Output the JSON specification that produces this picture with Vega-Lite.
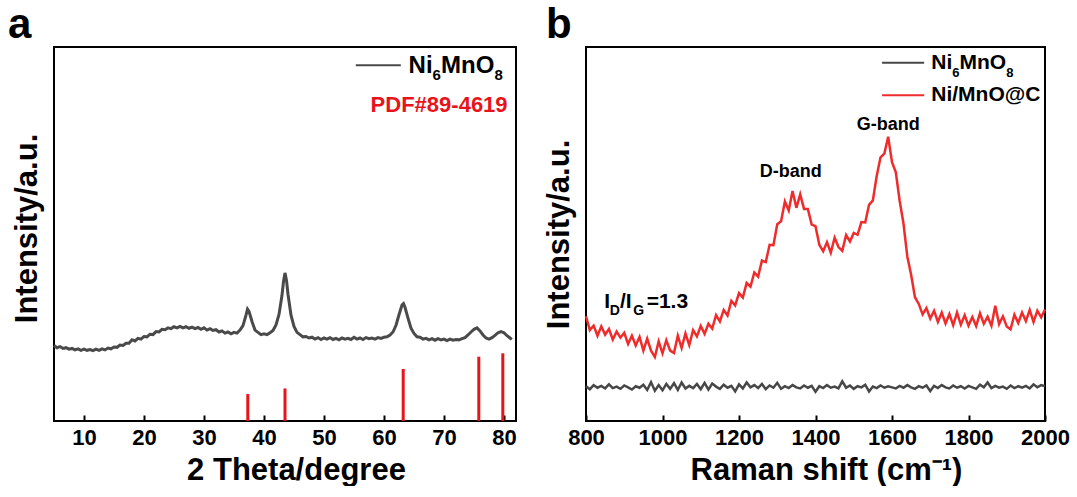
{
  "$schema": "https://vega.github.io/schema/vega-lite/v6.json",
  "background": "white",
  "padding": {"left": 7, "top": 3, "right": 0, "bottom": 0},
  "spacing": 23,
  "config": {
    "font": "Liberation Sans",
    "view": {"stroke": "black", "strokeWidth": 2},
    "axis": {
      "labelFont": "Liberation Sans", "labelFontSize": 22, "labelFontWeight": "bold", "labelColor": "black", "labelFlush": false,
      "titleFont": "Liberation Sans", "titleFontSize": 31, "titleFontWeight": "bold", "titleColor": "black",
      "domain": false, "grid": false, "tickColor": "black", "tickWidth": 2
    },
    "text": {"font": "Liberation Sans", "fontWeight": "bold", "color": "black", "baseline": "alphabetic", "align": "left"}
  },
  "datasets": {
    "xrd": [
      {"t":5.0,"i":20.2},{"t":5.5,"i":19.6},{"t":6.0,"i":19.9},{"t":6.5,"i":19.4},{"t":7.0,"i":19.6},{"t":7.5,"i":19.2},{"t":8.0,"i":19.4},{"t":8.5,"i":19.0},{"t":9.0,"i":19.3},{"t":9.5,"i":18.9},
      {"t":10.0,"i":19.2},{"t":10.5,"i":18.9},{"t":11.0,"i":19.1},{"t":11.5,"i":18.8},{"t":12.0,"i":19.2},{"t":12.5,"i":18.9},{"t":13.0,"i":19.3},{"t":13.5,"i":19.0},{"t":14.0,"i":19.5},{"t":14.5,"i":19.3},
      {"t":15.0,"i":19.8},{"t":15.5,"i":19.7},{"t":16.0,"i":20.3},{"t":16.5,"i":20.2},{"t":17.0,"i":20.8},{"t":17.5,"i":20.8},{"t":18.0,"i":21.7},{"t":18.5,"i":21.4},{"t":19.0,"i":22.1},{"t":19.5,"i":21.9},
      {"t":20.0,"i":22.6},{"t":20.5,"i":22.5},{"t":21.0,"i":23.2},{"t":21.5,"i":23.1},{"t":22.0,"i":23.9},{"t":22.5,"i":23.8},{"t":23.0,"i":24.5},{"t":23.5,"i":24.4},{"t":24.0,"i":24.9},{"t":24.5,"i":24.7},
      {"t":25.0,"i":25.2},{"t":25.5,"i":24.9},{"t":26.0,"i":25.3},{"t":26.5,"i":24.9},{"t":27.0,"i":25.2},{"t":27.5,"i":24.8},{"t":28.0,"i":25.1},{"t":28.5,"i":24.7},{"t":29.0,"i":25.0},{"t":29.5,"i":24.5},
      {"t":30.0,"i":24.9},{"t":30.5,"i":24.3},{"t":31.0,"i":24.7},{"t":31.5,"i":24.2},{"t":32.0,"i":24.4},{"t":32.5,"i":23.8},{"t":33.0,"i":24.1},{"t":33.5,"i":23.5},{"t":34.0,"i":23.8},{"t":34.5,"i":23.3},
      {"t":35.0,"i":23.7},{"t":35.5,"i":23.5},{"t":36.0,"i":24.3},{"t":36.5,"i":25.5},{"t":37.0,"i":28.3},{"t":37.25,"i":29.9},{"t":37.5,"i":29.3},{"t":38.0,"i":26.6},{"t":38.5,"i":24.3},{"t":39.0,"i":23.7},
      {"t":39.5,"i":23.1},{"t":40.0,"i":23.3},{"t":40.5,"i":23.1},{"t":41.0,"i":23.6},{"t":41.5,"i":24.2},{"t":42.0,"i":25.7},{"t":42.5,"i":28.5},{"t":43.0,"i":33.6},{"t":43.25,"i":37.3},{"t":43.5,"i":39.6},
      {"t":43.75,"i":37.6},{"t":44.0,"i":33.9},{"t":44.5,"i":28.3},{"t":45.0,"i":25.3},{"t":45.5,"i":23.7},{"t":46.0,"i":23.1},{"t":46.5,"i":22.5},{"t":47.0,"i":22.6},{"t":47.5,"i":22.2},{"t":48.0,"i":22.4},
      {"t":48.5,"i":21.9},{"t":49.0,"i":22.3},{"t":49.5,"i":21.8},{"t":50.0,"i":22.2},{"t":50.5,"i":21.9},{"t":51.0,"i":22.3},{"t":51.5,"i":21.8},{"t":52.0,"i":22.1},{"t":52.5,"i":21.7},{"t":53.0,"i":22.2},
      {"t":53.5,"i":21.9},{"t":54.0,"i":22.1},{"t":54.5,"i":21.8},{"t":55.0,"i":22.4},{"t":55.5,"i":21.9},{"t":56.0,"i":22.2},{"t":56.5,"i":21.8},{"t":57.0,"i":22.3},{"t":57.5,"i":22.0},{"t":58.0,"i":22.2},
      {"t":58.5,"i":21.9},{"t":59.0,"i":22.3},{"t":59.5,"i":22.1},{"t":60.0,"i":22.4},{"t":60.5,"i":22.5},{"t":61.0,"i":23.0},{"t":61.5,"i":23.8},{"t":62.0,"i":25.6},{"t":62.5,"i":28.4},{"t":63.0,"i":31.0},
      {"t":63.25,"i":31.4},{"t":63.5,"i":30.4},{"t":64.0,"i":27.5},{"t":64.5,"i":24.8},{"t":65.0,"i":23.4},{"t":65.5,"i":22.5},{"t":66.0,"i":22.4},{"t":66.5,"i":21.9},{"t":67.0,"i":22.1},{"t":67.5,"i":21.7},
      {"t":68.0,"i":22.0},{"t":68.5,"i":21.6},{"t":69.0,"i":22.0},{"t":69.5,"i":21.7},{"t":70.0,"i":21.9},{"t":70.5,"i":21.5},{"t":71.0,"i":21.9},{"t":71.5,"i":21.6},{"t":72.0,"i":21.8},{"t":72.5,"i":21.7},
      {"t":73.0,"i":22.0},{"t":73.5,"i":22.3},{"t":74.0,"i":23.0},{"t":74.5,"i":23.8},{"t":75.0,"i":24.5},{"t":75.5,"i":24.9},{"t":76.0,"i":24.1},{"t":76.5,"i":23.0},{"t":77.0,"i":22.2},{"t":77.5,"i":21.9},
      {"t":78.0,"i":22.3},{"t":78.5,"i":22.9},{"t":79.0,"i":23.6},{"t":79.5,"i":23.9},{"t":80.0,"i":23.6},{"t":80.5,"i":22.8},{"t":81.0,"i":22.2},{"t":81.3,"i":21.8}
    ],
    "pdf": [
      {"t":37.3,"i":7.2},{"t":43.5,"i":8.7},{"t":63.2,"i":13.9},{"t":75.8,"i":17.2},{"t":79.8,"i":18.1}
    ],
    "raman": [
      {"w":800,"Ni6MnO8":9.3,"Ni/MnO@C":28.0},{"w":810,"Ni6MnO8":8.5,"Ni/MnO@C":24.3},{"w":820,"Ni6MnO8":9.6,"Ni/MnO@C":25.5},{"w":830,"Ni6MnO8":8.9,"Ni/MnO@C":22.8},{"w":840,"Ni6MnO8":9.4,"Ni/MnO@C":25.3},
      {"w":850,"Ni6MnO8":8.7,"Ni/MnO@C":23.1},{"w":860,"Ni6MnO8":9.8,"Ni/MnO@C":24.6},{"w":870,"Ni6MnO8":8.8,"Ni/MnO@C":21.8},{"w":880,"Ni6MnO8":9.2,"Ni/MnO@C":23.9},{"w":890,"Ni6MnO8":8.6,"Ni/MnO@C":22.3},
      {"w":900,"Ni6MnO8":9.5,"Ni/MnO@C":23.6},{"w":910,"Ni6MnO8":9.0,"Ni/MnO@C":20.6},{"w":920,"Ni6MnO8":8.4,"Ni/MnO@C":22.8},{"w":930,"Ni6MnO8":9.3,"Ni/MnO@C":20.2},{"w":940,"Ni6MnO8":8.9,"Ni/MnO@C":22.5},
      {"w":950,"Ni6MnO8":9.7,"Ni/MnO@C":18.8},{"w":960,"Ni6MnO8":8.3,"Ni/MnO@C":22.0},{"w":970,"Ni6MnO8":10.4,"Ni/MnO@C":18.8},{"w":980,"Ni6MnO8":8.1,"Ni/MnO@C":17.1},{"w":990,"Ni6MnO8":9.6,"Ni/MnO@C":21.3},
      {"w":1000,"Ni6MnO8":8.2,"Ni/MnO@C":18.1},{"w":1010,"Ni6MnO8":9.9,"Ni/MnO@C":21.6},{"w":1020,"Ni6MnO8":8.6,"Ni/MnO@C":18.8},{"w":1030,"Ni6MnO8":10.1,"Ni/MnO@C":18.2},{"w":1040,"Ni6MnO8":8.3,"Ni/MnO@C":22.8},
      {"w":1050,"Ni6MnO8":10.3,"Ni/MnO@C":19.5},{"w":1060,"Ni6MnO8":8.7,"Ni/MnO@C":23.4},{"w":1070,"Ni6MnO8":9.4,"Ni/MnO@C":20.3},{"w":1080,"Ni6MnO8":8.8,"Ni/MnO@C":24.3},{"w":1090,"Ni6MnO8":9.9,"Ni/MnO@C":22.6},
      {"w":1100,"Ni6MnO8":8.5,"Ni/MnO@C":25.4},{"w":1110,"Ni6MnO8":10.2,"Ni/MnO@C":23.3},{"w":1120,"Ni6MnO8":8.4,"Ni/MnO@C":26.0},{"w":1130,"Ni6MnO8":10.0,"Ni/MnO@C":24.7},{"w":1140,"Ni6MnO8":9.2,"Ni/MnO@C":28.3},
      {"w":1150,"Ni6MnO8":8.6,"Ni/MnO@C":26.6},{"w":1160,"Ni6MnO8":9.7,"Ni/MnO@C":29.7},{"w":1170,"Ni6MnO8":8.9,"Ni/MnO@C":28.2},{"w":1180,"Ni6MnO8":9.4,"Ni/MnO@C":32.1},{"w":1190,"Ni6MnO8":7.9,"Ni/MnO@C":30.9},
      {"w":1200,"Ni6MnO8":9.8,"Ni/MnO@C":34.2},{"w":1210,"Ni6MnO8":8.7,"Ni/MnO@C":33.0},{"w":1220,"Ni6MnO8":10.3,"Ni/MnO@C":36.9},{"w":1230,"Ni6MnO8":9.0,"Ni/MnO@C":35.9},{"w":1240,"Ni6MnO8":9.6,"Ni/MnO@C":39.7},
      {"w":1250,"Ni6MnO8":8.8,"Ni/MnO@C":38.6},{"w":1260,"Ni6MnO8":9.9,"Ni/MnO@C":42.9},{"w":1270,"Ni6MnO8":8.5,"Ni/MnO@C":42.5},{"w":1280,"Ni6MnO8":9.5,"Ni/MnO@C":47.1},{"w":1290,"Ni6MnO8":8.9,"Ni/MnO@C":47.0},
      {"w":1300,"Ni6MnO8":10.2,"Ni/MnO@C":52.6},{"w":1310,"Ni6MnO8":8.6,"Ni/MnO@C":53.4},{"w":1320,"Ni6MnO8":9.3,"Ni/MnO@C":58.7},{"w":1330,"Ni6MnO8":8.8,"Ni/MnO@C":56.3},{"w":1340,"Ni6MnO8":9.6,"Ni/MnO@C":61.5},
      {"w":1350,"Ni6MnO8":9.0,"Ni/MnO@C":57.0},{"w":1360,"Ni6MnO8":8.7,"Ni/MnO@C":60.6},{"w":1370,"Ni6MnO8":9.5,"Ni/MnO@C":56.7},{"w":1380,"Ni6MnO8":8.9,"Ni/MnO@C":56.7},{"w":1390,"Ni6MnO8":9.4,"Ni/MnO@C":52.5},
      {"w":1400,"Ni6MnO8":7.8,"Ni/MnO@C":52.1},{"w":1410,"Ni6MnO8":9.3,"Ni/MnO@C":47.1},{"w":1420,"Ni6MnO8":8.8,"Ni/MnO@C":45.4},{"w":1430,"Ni6MnO8":9.6,"Ni/MnO@C":47.8},{"w":1440,"Ni6MnO8":8.9,"Ni/MnO@C":45.0},
      {"w":1450,"Ni6MnO8":9.2,"Ni/MnO@C":49.0},{"w":1460,"Ni6MnO8":8.7,"Ni/MnO@C":46.5},{"w":1470,"Ni6MnO8":10.6,"Ni/MnO@C":45.5},{"w":1480,"Ni6MnO8":8.9,"Ni/MnO@C":49.7},{"w":1490,"Ni6MnO8":9.5,"Ni/MnO@C":48.0},
      {"w":1500,"Ni6MnO8":8.6,"Ni/MnO@C":50.3},{"w":1510,"Ni6MnO8":9.3,"Ni/MnO@C":49.8},{"w":1520,"Ni6MnO8":9.0,"Ni/MnO@C":53.2},{"w":1530,"Ni6MnO8":9.7,"Ni/MnO@C":53.1},{"w":1540,"Ni6MnO8":7.9,"Ni/MnO@C":57.8},
      {"w":1550,"Ni6MnO8":9.2,"Ni/MnO@C":59.0},{"w":1560,"Ni6MnO8":8.8,"Ni/MnO@C":65.5},{"w":1570,"Ni6MnO8":9.5,"Ni/MnO@C":70.5},{"w":1580,"Ni6MnO8":8.9,"Ni/MnO@C":71.5},{"w":1590,"Ni6MnO8":9.3,"Ni/MnO@C":76.0},
      {"w":1600,"Ni6MnO8":9.0,"Ni/MnO@C":69.2},{"w":1610,"Ni6MnO8":8.7,"Ni/MnO@C":66.5},{"w":1620,"Ni6MnO8":9.4,"Ni/MnO@C":58.9},{"w":1630,"Ni6MnO8":8.9,"Ni/MnO@C":52.8},{"w":1640,"Ni6MnO8":9.6,"Ni/MnO@C":44.0},
      {"w":1650,"Ni6MnO8":9.0,"Ni/MnO@C":39.1},{"w":1660,"Ni6MnO8":8.6,"Ni/MnO@C":33.1},{"w":1670,"Ni6MnO8":9.3,"Ni/MnO@C":31.3},{"w":1680,"Ni6MnO8":8.9,"Ni/MnO@C":28.5},{"w":1690,"Ni6MnO8":9.5,"Ni/MnO@C":30.2},
      {"w":1700,"Ni6MnO8":8.0,"Ni/MnO@C":27.4},{"w":1710,"Ni6MnO8":9.4,"Ni/MnO@C":29.5},{"w":1720,"Ni6MnO8":8.8,"Ni/MnO@C":26.5},{"w":1730,"Ni6MnO8":9.6,"Ni/MnO@C":29.0},{"w":1740,"Ni6MnO8":9.0,"Ni/MnO@C":26.1},
      {"w":1750,"Ni6MnO8":8.7,"Ni/MnO@C":28.6},{"w":1760,"Ni6MnO8":9.5,"Ni/MnO@C":25.6},{"w":1770,"Ni6MnO8":8.9,"Ni/MnO@C":29.0},{"w":1780,"Ni6MnO8":9.3,"Ni/MnO@C":25.8},{"w":1790,"Ni6MnO8":8.7,"Ni/MnO@C":28.3},
      {"w":1800,"Ni6MnO8":9.4,"Ni/MnO@C":25.5},{"w":1810,"Ni6MnO8":9.0,"Ni/MnO@C":27.8},{"w":1820,"Ni6MnO8":8.6,"Ni/MnO@C":25.4},{"w":1830,"Ni6MnO8":9.7,"Ni/MnO@C":28.8},{"w":1840,"Ni6MnO8":9.0,"Ni/MnO@C":26.0},
      {"w":1850,"Ni6MnO8":10.3,"Ni/MnO@C":27.9},{"w":1860,"Ni6MnO8":8.8,"Ni/MnO@C":25.5},{"w":1870,"Ni6MnO8":9.4,"Ni/MnO@C":30.8},{"w":1880,"Ni6MnO8":8.9,"Ni/MnO@C":25.9},{"w":1890,"Ni6MnO8":9.2,"Ni/MnO@C":28.0},
      {"w":1900,"Ni6MnO8":8.6,"Ni/MnO@C":25.3},{"w":1910,"Ni6MnO8":9.5,"Ni/MnO@C":24.5},{"w":1920,"Ni6MnO8":8.8,"Ni/MnO@C":28.4},{"w":1930,"Ni6MnO8":9.3,"Ni/MnO@C":26.2},{"w":1940,"Ni6MnO8":8.9,"Ni/MnO@C":29.0},
      {"w":1950,"Ni6MnO8":9.4,"Ni/MnO@C":26.7},{"w":1960,"Ni6MnO8":8.7,"Ni/MnO@C":29.7},{"w":1970,"Ni6MnO8":9.8,"Ni/MnO@C":26.5},{"w":1980,"Ni6MnO8":9.0,"Ni/MnO@C":29.5},{"w":1990,"Ni6MnO8":9.6,"Ni/MnO@C":27.7},
      {"w":2000,"Ni6MnO8":9.3,"Ni/MnO@C":29.8}
    ]
  },
  "hconcat": [
    {
      "width": 462,
      "height": 374,
      "title": {"text": "a", "anchor": "start", "frame": "group", "fontSize": 42, "font": "Liberation Sans", "fontWeight": "bold", "color": "black", "dx": -46, "offset": 0},
      "layer": [
        {
          "data": {"name": "xrd"},
          "mark": {"type": "line", "color": "#4a4a4a", "strokeWidth": 3},
          "encoding": {
            "x": {"field": "t", "type": "quantitative", "scale": {"domain": [5, 82], "nice": false, "zero": false},
              "axis": {"title": "2 Theta/degree", "values": [10,15,20,25,30,35,40,45,50,55,60,65,70,75,80],
                "labelExpr": "datum.value % 10 === 0 ? datum.label : ''",
                "tickSize": {"condition": {"test": "datum.value % 10 === 0", "value": -6}, "value": -3},
                "labelPadding": 12, "titlePadding": 7, "titleX": 242}},
            "y": {"field": "i", "type": "quantitative", "scale": {"domain": [0, 100], "nice": false},
              "axis": {"title": "Intensity/a.u.", "labels": false, "ticks": false, "titlePadding": 11, "titleY": 181}}
          }
        },
        {
          "data": {"name": "pdf"},
          "mark": {"type": "rule", "color": "#e8141b", "strokeWidth": 3},
          "encoding": {
            "x": {"field": "t", "type": "quantitative"},
            "y": {"field": "i", "type": "quantitative"},
            "y2": {"datum": 0}
          }
        },
        {
          "data": {"values": [{}]},
          "mark": {"type": "rule", "color": "#4a4a4a", "strokeWidth": 2},
          "encoding": {"x": {"datum": 55.3}, "x2": {"datum": 62.8}, "y": {"datum": 95.1}}
        },
        {"data": {"values": [{}]}, "mark": {"type": "text", "text": "Ni", "fontSize": 24}, "encoding": {"x": {"datum": 64.1}, "y": {"datum": 93.0}}},
        {"data": {"values": [{}]}, "mark": {"type": "text", "text": "6", "fontSize": 15}, "encoding": {"x": {"datum": 68.1}, "y": {"datum": 91.1}}},
        {"data": {"values": [{}]}, "mark": {"type": "text", "text": "MnO", "fontSize": 24}, "encoding": {"x": {"datum": 69.5}, "y": {"datum": 93.0}}},
        {"data": {"values": [{}]}, "mark": {"type": "text", "text": "8", "fontSize": 15}, "encoding": {"x": {"datum": 78.4}, "y": {"datum": 91.1}}},
        {
          "data": {"values": [{}]},
          "mark": {"type": "text", "text": "PDF#89-4619", "align": "right", "fontSize": 22, "color": "#e8141b"},
          "encoding": {"x": {"datum": 80.6}, "y": {"datum": 82.6}}
        }
      ]
    },
    {
      "width": 459,
      "height": 374,
      "title": {"text": "b", "anchor": "start", "frame": "group", "fontSize": 42, "font": "Liberation Sans", "fontWeight": "bold", "color": "black", "dx": -40, "offset": 0},
      "layer": [
        {
          "data": {"name": "raman"},
          "transform": [{"fold": ["Ni6MnO8", "Ni/MnO@C"], "as": ["s", "i"]}],
          "mark": {"type": "line", "strokeWidth": 2.5},
          "encoding": {
            "x": {"field": "w", "type": "quantitative", "scale": {"domain": [800, 2000], "nice": false, "zero": false},
              "axis": {"title": "Raman shift (cm⁻¹)", "values": [800,900,1000,1100,1200,1300,1400,1500,1600,1700,1800,1900,2000],
                "labelExpr": "datum.value % 200 === 0 ? datum.label : ''", "format": "d",
                "tickSize": {"condition": {"test": "datum.value % 200 === 0", "value": -6}, "value": -3},
                "labelPadding": 12, "titlePadding": 7, "titleX": 240}},
            "y": {"field": "i", "type": "quantitative", "scale": {"domain": [0, 100], "nice": false},
              "axis": {"title": "Intensity/a.u.", "labels": false, "ticks": false, "titlePadding": 11}},
            "color": {"field": "s", "type": "nominal",
              "scale": {"domain": ["Ni6MnO8", "Ni/MnO@C"], "range": ["#474747", "#ee2c2c"]},
              "legend": null}
          }
        },
        {
          "data": {"values": [{}]},
          "mark": {"type": "rule", "color": "#474747", "strokeWidth": 2},
          "encoding": {"x": {"datum": 1574}, "x2": {"datum": 1684}, "y": {"datum": 95.8}}
        },
        {
          "data": {"values": [{}]},
          "mark": {"type": "rule", "color": "#ee2c2c", "strokeWidth": 2},
          "encoding": {"x": {"datum": 1574}, "x2": {"datum": 1684}, "y": {"datum": 87.1}}
        },
        {"data": {"values": [{}]}, "mark": {"type": "text", "text": "Ni", "fontSize": 21}, "encoding": {"x": {"datum": 1702.6}, "y": {"datum": 94.2}}},
        {"data": {"values": [{}]}, "mark": {"type": "text", "text": "6", "fontSize": 13}, "encoding": {"x": {"datum": 1757.6}, "y": {"datum": 92.1}}},
        {"data": {"values": [{}]}, "mark": {"type": "text", "text": "MnO", "fontSize": 21}, "encoding": {"x": {"datum": 1776.5}, "y": {"datum": 94.2}}},
        {"data": {"values": [{}]}, "mark": {"type": "text", "text": "8", "fontSize": 13}, "encoding": {"x": {"datum": 1898.8}, "y": {"datum": 92.1}}},
        {"data": {"values": [{}]}, "mark": {"type": "text", "text": "Ni/MnO@C", "fontSize": 21}, "encoding": {"x": {"datum": 1702.6}, "y": {"datum": 85.5}}},
        {"data": {"values": [{}]}, "mark": {"type": "text", "text": "D-band", "align": "center", "fontSize": 18}, "encoding": {"x": {"datum": 1335}, "y": {"datum": 65.3}}},
        {"data": {"values": [{}]}, "mark": {"type": "text", "text": "G-band", "align": "center", "fontSize": 18}, "encoding": {"x": {"datum": 1590}, "y": {"datum": 77.9}}},
        {"data": {"values": [{}]}, "mark": {"type": "text", "text": "I", "fontSize": 21}, "encoding": {"x": {"datum": 847.7}, "y": {"datum": 30.2}}},
        {"data": {"values": [{}]}, "mark": {"type": "text", "text": "D", "fontSize": 14}, "encoding": {"x": {"datum": 862.4}, "y": {"datum": 28.3}}},
        {"data": {"values": [{}]}, "mark": {"type": "text", "text": "/I", "fontSize": 21}, "encoding": {"x": {"datum": 888.6}, "y": {"datum": 30.2}}},
        {"data": {"values": [{}]}, "mark": {"type": "text", "text": "G", "fontSize": 14}, "encoding": {"x": {"datum": 923.7}, "y": {"datum": 28.3}}},
        {"data": {"values": [{}]}, "mark": {"type": "text", "text": "=1.3", "fontSize": 21}, "encoding": {"x": {"datum": 958.6}, "y": {"datum": 30.2}}}
      ]
    }
  ]
}
